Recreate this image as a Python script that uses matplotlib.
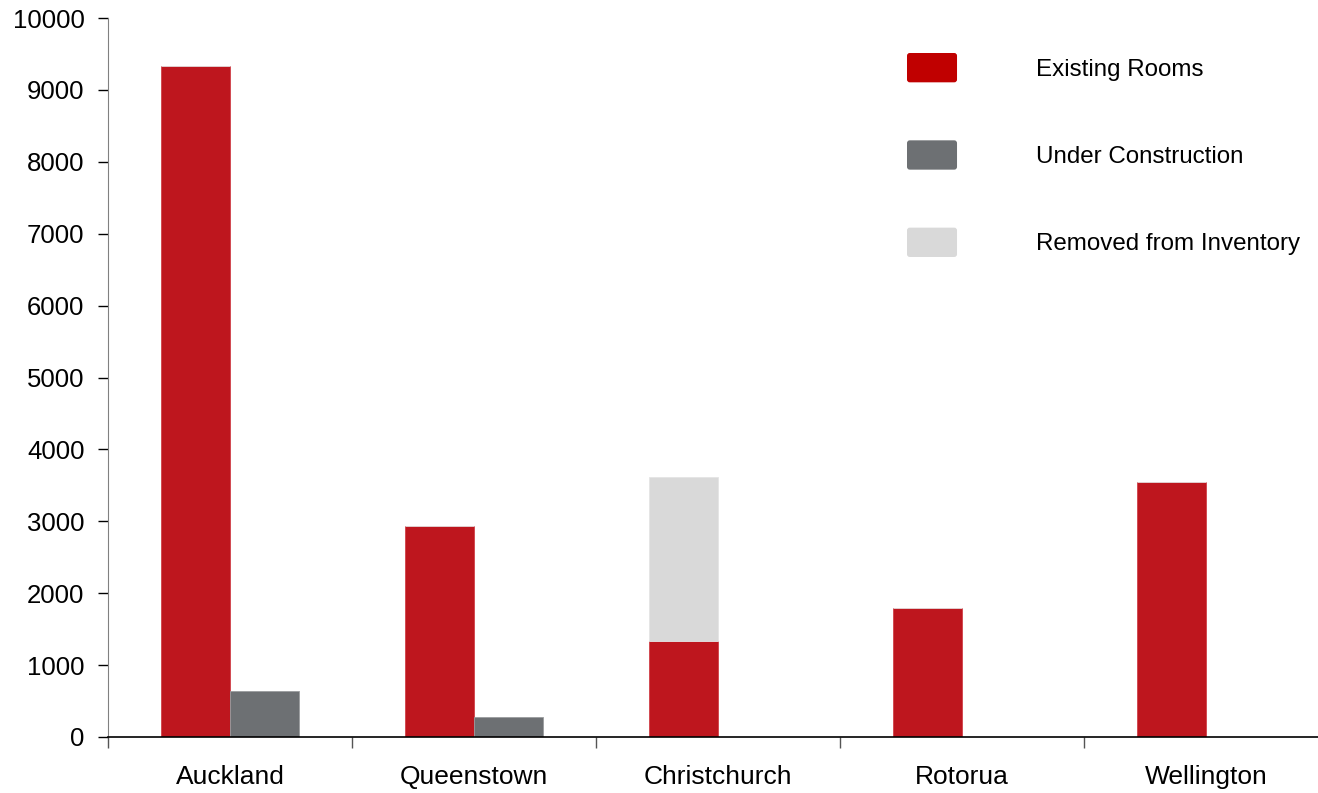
import numpy as np
import matplotlib.pyplot as plt
from matplotlib.patches import Patch, FancyBboxPatch
from matplotlib.legend_handler import HandlerPatch

plt.rcParams['font.family'] = ['Liberation Sans', 'DejaVu Sans']

# Hotel room supply by city
cidades = ["Auckland", "Queenstown", "Christchurch", "Rotorua", "Wellington"]
quartos_existentes = [9330, 2930, 1330, 1790, 3540]
em_construcao = [640, 280, 0, 0, 0]
removidos = [0, 0, 2290, 0, 0]

cor_existentes = "#BE161E"
cor_construcao = "#6D7073"
cor_removidos = "#D9D9D9"


# legend swatch with slightly rounded corners
def caixa_arredondada(legend, orig_handle, xdescent, ydescent, width, height, fontsize):
    return FancyBboxPatch((-xdescent, -ydescent), width, height,
                          boxstyle="round,pad=0,rounding_size=2")


fig = plt.figure(figsize=(13.18, 7.93), dpi=100)
ax = fig.add_axes([108 / 1318, 56 / 793, 1210 / 1318, 719 / 793])

x = np.arange(len(cidades))
largura = 0.283

ax.bar(x - largura / 2, quartos_existentes, largura, color=cor_existentes,
       edgecolor="#D04048", linewidth=0.6, zorder=2)
ax.bar(x + largura / 2, em_construcao, largura, color=cor_construcao,
       edgecolor="#9A9C9E", linewidth=0.6, zorder=2)
ax.bar(x - largura / 2, removidos, largura, bottom=quartos_existentes,
       color=cor_removidos, edgecolor="#E4E4E4", linewidth=0.6, zorder=3)

ax.set_yticks(np.arange(0, 10001, 1000))
ax.tick_params(axis="y", direction="out", length=7, width=1, color="black",
               labelsize=18.5, pad=10)

# category separators as ticks, names centered between them
ax.set_xticks(x - 0.5)
ax.set_xticklabels([])
ax.set_xticks(x, minor=True)
ax.set_xticklabels(cidades, minor=True)
ax.tick_params(axis="x", which="major", direction="out", length=8, width=1,
               color="#555555")
ax.tick_params(axis="x", which="minor", length=0, labelsize=19, pad=20)

ax.set_ylim(0, 10000)
ax.set_xlim(-0.5, -0.5 + 1210 / 244)

for lado in ["top", "right"]:
    ax.spines[lado].set_visible(False)
ax.spines["left"].set_color("#808080")
ax.spines["bottom"].set_color("black")
ax.spines["bottom"].set_linewidth(1.2)

handles = [Patch(facecolor="#C00000"), Patch(facecolor=cor_construcao),
           Patch(facecolor=cor_removidos)]
ax.legend(handles, ["Existing Rooms", "Under Construction", "Removed from Inventory"],
          loc="upper left", bbox_to_anchor=(799 / 1210, 1 - 35 / 719),
          frameon=False, fontsize=17.4, handlelength=2.07, handleheight=1.49,
          handletextpad=3.26, labelspacing=2.4, borderpad=0, borderaxespad=0,
          handler_map={Patch: HandlerPatch(patch_func=caixa_arredondada)})

fig.savefig("out.png", dpi=100)
